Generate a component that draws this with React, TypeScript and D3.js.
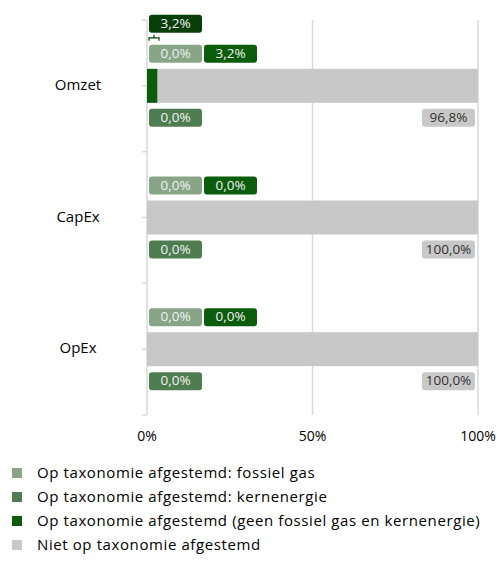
import React from "react";
import * as d3 from "d3";

const categories = ["Omzet", "CapEx", "OpEx"];
const fossilGas = [0.0, 0.0, 0.0];
const kernenergie = [0.0, 0.0, 0.0];
const aligned = [3.2, 0.0, 0.0];
const notAligned = [96.8, 100.0, 100.0];
const xTicks = [0, 50, 100];
const legendLabels = [
  "Op taxonomie afgestemd: fossiel gas",
  "Op taxonomie afgestemd: kernenergie",
  "Op taxonomie afgestemd (geen fossiel gas en kernenergie)",
  "Niet op taxonomie afgestemd",
];
const colors = ["#88a588", "#4f7d52", "#0b5c0b", "#c8c8c8"];

const FONT = "'Open Sans', sans-serif";
const fmt = (v: number) => v.toFixed(1).replace(".", ",") + "%";

function Label({ x, y, w, fill, color, text }: any) {
  return (
    <g>
      <rect x={x} y={y - 9} width={w} height={18} rx={3} fill={fill} />
      <text x={x + w / 2} y={y + 0.5} textAnchor="middle" dominantBaseline="middle" fontSize={13.5} fill={color} fontFamily={FONT}>
        {text}
      </text>
    </g>
  );
}

export default function App() {
  const W = 497, H = 566;
  const x = d3.scaleLinear().domain([0, 100]).range([147, 478]);
  const y = d3.scaleLinear().domain([0, 6]).range([20, 415]);
  const gridColor = "#d9d9d9";
  const lw = 53;
  return (
    <svg width={W} height={H} style={{ position: "absolute", left: 0, top: 0 }}>
      <rect width={W} height={H} fill="#fff" />
      {xTicks.slice(1).map((t) => (
        <line key={t} x1={x(t)} x2={x(t)} y1={y(0)} y2={y(6)} stroke={gridColor} strokeWidth={1.5} />
      ))}
      {d3.range(7).map((i) => (
        <line key={i} x1={x(0) - 5} x2={x(0)} y1={y(i)} y2={y(i)} stroke={gridColor} strokeWidth={1.5} />
      ))}
      <line x1={x(0)} x2={x(0)} y1={y(0)} y2={y(6)} stroke={gridColor} strokeWidth={1.5} />
      {categories.map((c, i) => {
        const cy = y(2 * i + 1);
        const segs = [fossilGas[i], kernenergie[i], aligned[i], notAligned[i]];
        let acc = 0;
        return (
          <g key={c}>
            {segs.map((v, k) => {
              const x0 = x(acc);
              acc += v;
              return v > 0 ? <rect key={k} x={x0} y={cy - 17} width={x(acc) - x0} height={34} fill={colors[k]} /> : null;
            })}
            <text x={78} y={cy} textAnchor="middle" dominantBaseline="middle" fontSize={15} fontFamily={FONT} fill="#000">
              {c}
            </text>
            <Label x={x(0) + 2} y={cy - 32} w={lw} fill={colors[0]} color="#eef2ee" text={fmt(fossilGas[i])} />
            <Label x={x(0) + 57} y={cy - 32} w={lw} fill={colors[2]} color="#f2f2f2" text={fmt(aligned[i])} />
            <Label x={x(0) + 2} y={cy + 32} w={lw} fill={colors[1]} color="#eef2ee" text={fmt(kernenergie[i])} />
            <Label x={x(100) - 56} y={cy + 32} w={lw} fill={colors[3]} color="#333" text={fmt(notAligned[i])} />
            {aligned[i] > 0 && i === 0 ? (
              <g>
                <Label x={x(0) + 2} y={cy - 62} w={lw} fill="#063f08" color="#f2f2f2" text={fmt(aligned[i])} />
                <path
                  d={`M${x(0) + 2},${cy - 45} V${cy - 48} H${x(0) + 12} V${cy - 45} M${x(0) + 7},${cy - 48} V${cy - 51}`}
                  fill="none"
                  stroke="#063f08"
                  strokeWidth={1.2}
                />
              </g>
            ) : null}
          </g>
        );
      })}
      {xTicks.map((t) => (
        <text key={t} x={x(t)} y={437} textAnchor="middle" dominantBaseline="middle" fontSize={14} fontFamily={FONT} fill="#000">
          {t}%
        </text>
      ))}
      {legendLabels.map((l, i) => (
        <g key={l}>
          <rect x={12} y={468 + i * 24} width={10} height={10} fill={colors[i]} />
          <text x={37} y={474 + i * 24} dominantBaseline="middle" fontSize={15} letterSpacing={0.6} fontFamily={FONT} fill="#000">
            {l}
          </text>
        </g>
      ))}
    </svg>
  );
}
